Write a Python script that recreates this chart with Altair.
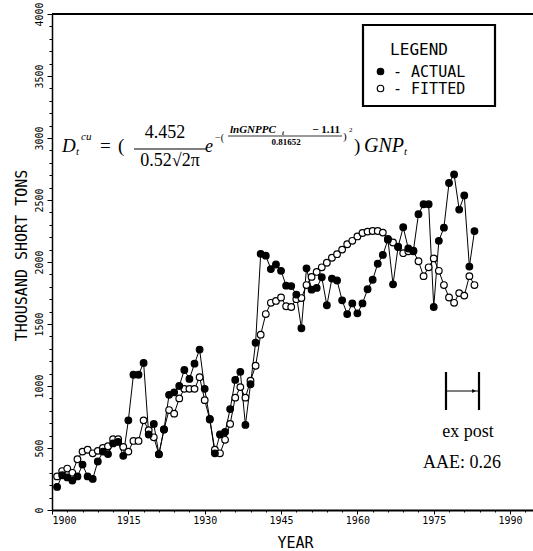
import altair as alt
import pandas as pd

# ---------------- data ----------------
years = list(range(1901, 1984))
actual = [186, 280, 263, 237, 271, 366, 271, 251, 391, 471,
          451, 537, 549, 437, 723, 1091, 1091, 1186, 609, 694,
          449, 649, 929, 949, 1000, 1129, 1057, 1180, 1294, 977,
          734, 457, 609, 629, 814, 1049, 1114, 686, 1014, 1349,
          2066, 2051, 1943, 1980, 1929, 1809, 1806, 1737, 1466, 1949,
          1777, 1791, 1877, 1651, 1866, 1851, 1691, 1580, 1666, 1586,
          1666, 1780, 1857, 1986, 2057, 2180, 1820, 2123, 2280, 2109,
          2091, 2386, 2466, 2466, 1637, 2171, 2277, 2637, 2706, 2423,
          2537, 1963, 2249]
fitted = [271, 314, 334, 300, 409, 471, 486, 457, 477, 500,
          514, 571, 571, 509, 471, 557, 557, 723, 643, 586,
          450, 650, 806, 777, 900, 977, 977, 977, 1071, 886,
          730, 486, 457, 566, 694, 906, 991, 906, 1043, 1163,
          1414, 1580, 1671, 1686, 1714, 1643, 1637, 1700, 1709, 1814,
          1880, 1920, 1957, 1994, 2034, 2063, 2100, 2143, 2171, 2206,
          2234, 2245, 2250, 2250, 2237, 2186, 2157, 2120, 2071, 2086,
          2086, 2006, 1886, 1957, 2029, 1929, 1814, 1714, 1671, 1749,
          1729, 1886, 1814]
series_names = ["ACTUAL", "FITTED"]
x_tick_values = list(range(1900, 1994, 3))
y_tick_values = list(range(0, 4001, 100))

df = pd.DataFrame(
    {"year": years + years,
     "value": fitted + actual,
     "series": ["FITTED"] * len(years) + ["ACTUAL"] * len(years)}
)
dummy = pd.DataFrame({"a": [0]})

# ---------------- layout ----------------
W, H = 481, 496
L, T = 52, 14
MONO = "DejaVu Sans Mono"
SERIF = "Liberation Serif"

x_scale = alt.Scale(domain=[1900, 1994.5], nice=False, zero=False)
y_scale = alt.Scale(domain=[0, 4000], nice=False)

x_axis = alt.Axis(
    values=x_tick_values, format="d", title="YEAR",
    labelExpr="(datum.value - 1900) % 15 === 0 ? datum.label : ''",
    labelFlush=True, labelOverlap=False, grid=False,
    tickSize={"condition": {"test": "(datum.value - 1900) % 15 === 0", "value": 4}, "value": 2},
    tickColor="black", domainColor="black", domainWidth=2,
    labelFont=MONO, labelFontSize=10, labelColor="black", labelPadding=1,
    titleFont=MONO, titleFontSize=15, titleFontWeight="normal", titleColor="black",
    titleX=243, titleY=32, titleBaseline="middle",
)
y_axis = alt.Axis(
    values=y_tick_values, format="d", title="THOUSAND SHORT TONS",
    labelExpr="datum.value % 500 === 0 ? datum.label : ''",
    labelAngle=270, labelAlign="center", labelBaseline="bottom",
    labelOverlap=False, grid=False,
    tickSize={"condition": {"test": "datum.value % 500 === 0", "value": 5}, "value": 3},
    tickColor="black", domainColor="black", domainWidth=1.5,
    labelFont=MONO, labelFontSize=10, labelColor="black", labelPadding=3,
    titleFont=MONO, titleFontSize=15, titleFontWeight="normal", titleColor="black",
    titleAngle=270, titleX=-31, titleY=241, titleBaseline="middle",
)

lines = alt.Chart(df).mark_line(color="black", strokeWidth=1).encode(
    x=alt.X("year:Q", scale=x_scale, axis=x_axis),
    y=alt.Y("value:Q", scale=y_scale, axis=y_axis),
    detail="series:N",
    order="year:Q",
)

points = alt.Chart(df).mark_point(
    shape="circle", size=44, stroke="black", strokeWidth=1.2, opacity=1
).encode(
    x=alt.X("year:Q", scale=x_scale, axis=x_axis),
    y=alt.Y("value:Q", scale=y_scale, axis=y_axis),
    fill=alt.Fill(
        "series:N",
        scale=alt.Scale(domain=series_names, range=["black", "white"]),
        legend=alt.Legend(
            title="LEGEND", orient="none", legendX=373 - L, legendY=42 - T,
            titleAnchor="middle", titleFont=MONO, titleFontSize=16,
            titleFontWeight="normal", titleColor="black", titlePadding=6,
            labelFont=MONO, labelFontSize=15, labelColor="black",
            labelExpr="'- ' + datum.label", labelOffset=5,
            symbolType="circle", symbolSize=42, symbolStrokeColor="black",
            symbolStrokeWidth=1.2, rowPadding=1, padding=0,
        ),
    ),
)

top_rule = alt.Chart(dummy).mark_rule(color="black", strokeWidth=2).encode(
    x=alt.value(0), x2=alt.value(W), y=alt.value(0)
)

legend_box = alt.Chart(dummy).mark_rect(
    fill="white", fillOpacity=0, stroke="black", strokeWidth=2.2
).encode(
    x=alt.value(363 - L), x2=alt.value(495 - L),
    y=alt.value(25 - T), y2=alt.value(106 - T),
)


def txt(s, x, y, size, font=SERIF, style="normal", align="left", weight="normal"):
    return alt.Chart(dummy).mark_text(
        text=s, font=font, fontSize=size, fontStyle=style, fontWeight=weight,
        align=align, baseline="middle", color="black"
    ).encode(x=alt.value(x - L), y=alt.value(y - T))


def hrule(x1, x2, y, w=1.0):
    return alt.Chart(dummy).mark_rule(color="black", strokeWidth=w).encode(
        x=alt.value(x1 - L), x2=alt.value(x2 - L), y=alt.value(y - T)
    )


def vrule(x, y1, y2, w=1.0):
    return alt.Chart(dummy).mark_rule(color="black", strokeWidth=w).encode(
        x=alt.value(x - L), y=alt.value(y1 - T), y2=alt.value(y2 - T)
    )


formula = [
    txt("D", 62, 146, 19, style="italic"),
    txt("t", 76, 152, 11, style="italic"),
    txt("cu", 81, 137, 11, style="italic"),
    txt("=", 100, 146, 19),
    txt("(", 118, 146, 19),
    txt("4.452", 165, 133, 18, align="center"),
    hrule(134, 206, 149, 1.0),
    txt("0.52\u221a2\u03c0", 170, 161, 18, align="center"),
    txt("e", 205, 147, 18, style="italic"),
    txt("\u2212(", 215, 138, 10),
    txt("lnGNPPC", 230, 130, 11, style="italic", weight="bold"),
    txt("t", 282, 133, 7, style="italic", weight="bold"),
    txt("\u2212 1.11", 340, 130, 11, align="right", weight="bold"),
    hrule(228, 342, 136, 0.8),
    txt("0.81652", 286, 142, 9, align="center", weight="bold"),
    txt(")", 343, 137, 11),
    txt("2", 349, 130, 7),
    txt(")", 354, 146, 19),
    txt("GNP", 364, 146, 20, style="italic"),
    txt("t", 404, 152, 11, style="italic"),
]

ex_post = [
    vrule(446, 372, 410, 2.2),
    vrule(479, 372, 410, 2.2),
    hrule(446, 479, 391, 1.2),
    alt.Chart(dummy).mark_point(shape="triangle-right", filled=True, color="black",
                                size=18, opacity=1).encode(
        x=alt.value(474 - L), y=alt.value(391 - T)),
    txt("ex post", 468, 432, 18, align="center"),
    txt("AAE: 0.26", 462, 463, 18, align="center"),
]

chart = alt.layer(
    top_rule, lines, points, legend_box, *formula, *ex_post
).properties(
    width=W, height=H,
    padding={"left": L, "top": T, "right": 0, "bottom": 551 - T - H},
    autosize=alt.AutoSizeParams(type="none"),
    background="white",
).configure_view(stroke=None)

chart.save("out.html", embed_options={"renderer": "svg", "actions": False})
